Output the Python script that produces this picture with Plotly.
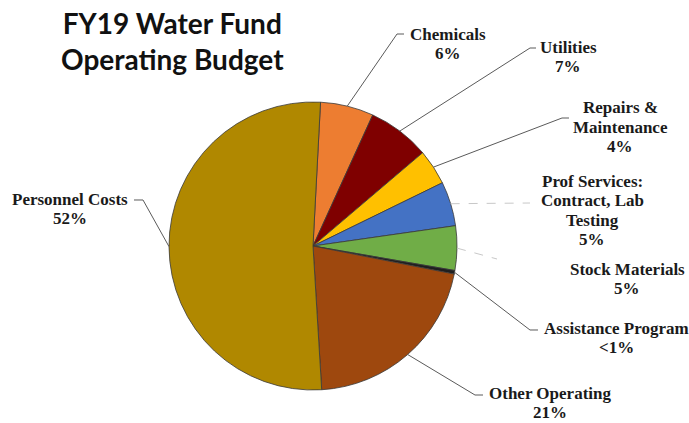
import math
import plotly.graph_objects as go

# Budget categories, shares (percent) and displayed labels
categories = [
    "Chemicals",
    "Utilities",
    "Repairs & Maintenance",
    "Prof Services: Contract, Lab Testing",
    "Stock Materials",
    "Assistance Program",
    "Other Operating",
    "Personnel Costs",
]
shares = [6, 7, 4, 5, 5, 0.4, 21, 52]
share_labels = ["6%", "7%", "4%", "5%", "5%", "<1%", "21%", "52%"]
label_lines = [
    ["Chemicals"],
    ["Utilities"],
    ["Repairs &", "Maintenance"],
    ["Prof Services:", "Contract, Lab", "Testing"],
    ["Stock Materials"],
    ["Assistance Program"],
    ["Other Operating"],
    ["Personnel Costs"],
]
colors = ["#ED7D31", "#7F0000", "#FFC000", "#4472C4", "#70AD47",
          "#1F1F1F", "#9E480E", "#B08800"]

W, H = 689, 423
CX, CY, R = 313, 246, 144      # pie centre and radius in pixels
ROT = 3                        # start angle of first slice, degrees clockwise
LINE_H = 19.5                  # label line spacing, px

# label centre x and first-line y (px); leader-line elbow points (px)
label_pos = [(448, 34), (568, 47), (620, 108), (592, 181),
             (627, 269), (616, 328), (550, 393), (70, 199)]
elbows = [
    [(397, 34), (404, 34)],
    [(530, 48), (536, 48)],
    [(562, 118), (569, 118)],
    [(530, 203)],
    [(497, 259)],
    [(530, 330), (538, 330)],
    [(475, 395), (483, 395)],
    [(143, 200), (134, 200)],
]
faint = [False, False, False, True, True, False, False, False]


def px(x):
    return x / W


def py(y):
    return 1 - y / H


fig = go.Figure(
    go.Pie(
        labels=categories,
        values=shares,
        sort=False,
        direction="clockwise",
        rotation=ROT,
        marker=dict(colors=colors, line=dict(color="#3a3a3a", width=0.8)),
        textinfo="none",
        hoverinfo="label+percent",
        domain=dict(x=[px(CX - R), px(CX + R)], y=[py(CY + R), py(CY - R)]),
        showlegend=False,
    )
)

# leader lines start at the outer edge midpoint of each slice
total = sum(shares)
shapes = []
cum = 0.0
for i, v in enumerate(shares):
    mid = math.radians(ROT + (cum + v / 2) / total * 360)
    cum += v
    sx = CX + R * math.sin(mid)
    sy = CY - R * math.cos(mid)
    pts = [(sx, sy)] + elbows[i]
    path = "M " + " L ".join(f"{px(x):.5f},{py(y):.5f}" for x, y in pts)
    shapes.append(dict(
        type="path", path=path, xref="paper", yref="paper",
        line=dict(color="#c8c8c8" if faint[i] else "#5a5a5a",
                  width=1, dash="dash" if faint[i] else "solid"),
    ))

annotations = []
for i, lines in enumerate(label_lines):
    x, y0 = label_pos[i]
    for k, line in enumerate(lines + [share_labels[i]]):
        annotations.append(dict(
            x=px(x), y=py(y0 + k * LINE_H), xref="paper", yref="paper",
            xanchor="center", yanchor="middle", showarrow=False,
            text=f"<b>{line}</b>",
            font=dict(family="Liberation Serif", size=17, color="#1a1a1a"),
        ))

annotations.append(dict(
    x=px(172), y=py(41), xref="paper", yref="paper",
    xanchor="center", yanchor="middle", showarrow=False, align="center",
    text="<b>FY19 Water Fund<br>Operating Budget</b>",
    font=dict(family="Lato", size=28, color="#111111"),
))

fig.update_layout(
    width=W, height=H,
    margin=dict(l=0, r=0, t=0, b=0),
    paper_bgcolor="white", plot_bgcolor="white",
    shapes=shapes, annotations=annotations,
)

fig.write_html("out.html")
